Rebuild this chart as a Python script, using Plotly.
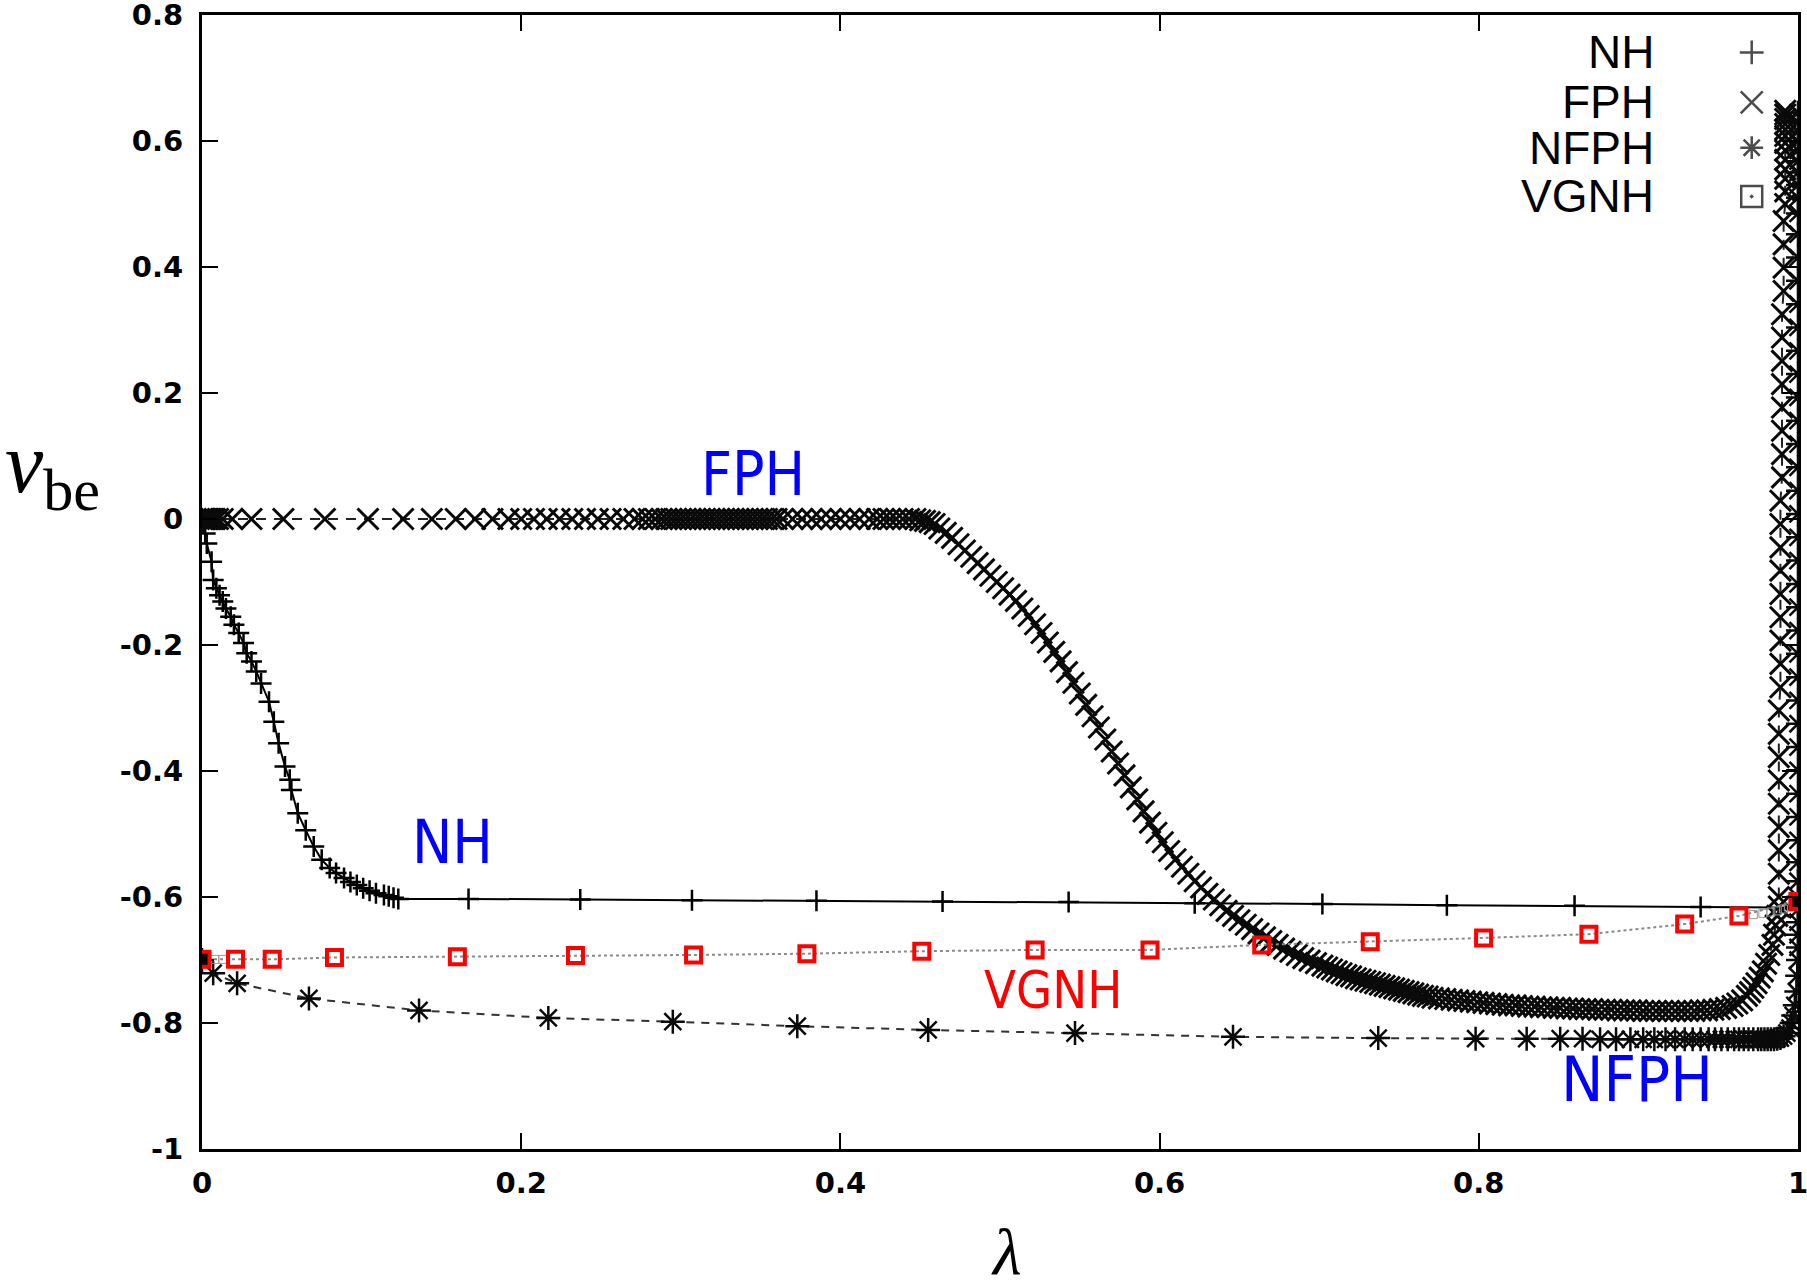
import plotly.graph_objects as go

# ---------------- data ----------------
NH_x = [0.000, 0.0003, 0.0008, 0.002, 0.003, 0.006, 0.007, 0.009, 0.011, 0.013, 0.015, 0.018, 0.020,
        0.023, 0.026, 0.028, 0.031, 0.034, 0.037, 0.042, 0.045, 0.048, 0.052, 0.055, 0.056, 0.060,
        0.065, 0.070, 0.075, 0.080, 0.084, 0.089, 0.093, 0.097, 0.101, 0.105, 0.109, 0.114, 0.117,
        0.120, 0.123, 0.167, 0.237, 0.307, 0.385, 0.464, 0.543, 0.622, 0.702, 0.780, 0.860, 0.939, 1.000]
NH_y = [0.000, -0.003, -0.007, -0.023, -0.039, -0.068, -0.097, -0.110, -0.121, -0.131, -0.142, -0.155, -0.168,
        -0.181, -0.197, -0.213, -0.226, -0.242, -0.261, -0.290, -0.322, -0.356, -0.393, -0.414, -0.430, -0.467,
        -0.494, -0.520, -0.541, -0.554, -0.562, -0.570, -0.576, -0.581, -0.586, -0.590, -0.594, -0.597, -0.599,
        -0.601, -0.603, -0.603, -0.604, -0.605, -0.606, -0.607, -0.608, -0.610, -0.611, -0.613, -0.614, -0.616, -0.617]

FPH_x = [0.000, 0.001, 0.002, 0.003, 0.004, 0.005, 0.006, 0.008, 0.010, 0.013, 0.019, 0.031, 0.051, 0.077,
         0.104, 0.126, 0.144, 0.159, 0.171, 0.182, 0.192, 0.200, 0.208, 0.216, 0.224, 0.232, 0.240, 0.248,
         0.256, 0.264, 0.271, 0.276, 0.280, 0.284, 0.288, 0.291, 0.294, 0.297, 0.300, 0.303, 0.306, 0.309,
         0.312, 0.315, 0.318, 0.321, 0.324, 0.327, 0.330, 0.333, 0.336, 0.339, 0.342, 0.345, 0.348, 0.351,
         0.354, 0.357, 0.360, 0.364, 0.370, 0.376, 0.382, 0.388, 0.394, 0.400, 0.406, 0.412, 0.418, 0.423,
         0.427, 0.431, 0.435, 0.439, 0.443, 0.447, 0.450, 0.453, 0.456, 0.459,
         0.462, 0.466, 0.470, 0.474, 0.478, 0.482, 0.486, 0.490, 0.494, 0.498, 0.502, 0.506, 0.510, 0.514,
         0.518, 0.522, 0.526, 0.530, 0.534, 0.538, 0.542, 0.546, 0.550, 0.554, 0.558, 0.562, 0.566, 0.570,
         0.574, 0.578, 0.582, 0.586, 0.590, 0.594, 0.598, 0.602, 0.606, 0.610, 0.614, 0.618, 0.622, 0.626,
         0.630, 0.634, 0.638, 0.642, 0.646, 0.650, 0.654, 0.658, 0.662, 0.666, 0.670, 0.674, 0.678, 0.682,
         0.686, 0.690, 0.694, 0.698, 0.702, 0.705, 0.708, 0.711, 0.714, 0.717, 0.720, 0.723, 0.726, 0.729,
         0.732, 0.735, 0.738, 0.741, 0.744, 0.747, 0.750, 0.753, 0.756, 0.759, 0.762, 0.765, 0.768, 0.771,
         0.775, 0.779, 0.783, 0.787, 0.791, 0.795, 0.799, 0.803, 0.807, 0.811, 0.815, 0.819, 0.823, 0.827,
         0.831, 0.835, 0.839, 0.843, 0.847, 0.851, 0.855, 0.859, 0.863, 0.867, 0.871, 0.875, 0.879, 0.883,
         0.887, 0.891, 0.895, 0.899, 0.903, 0.907, 0.911, 0.915, 0.919, 0.923, 0.927, 0.931, 0.935, 0.939,
         0.943, 0.947, 0.951, 0.955, 0.959, 0.962, 0.965, 0.968, 0.970, 0.972, 0.974, 0.976, 0.978, 0.980,
         0.982, 0.984, 0.985, 0.986, 0.987, 0.988, 0.988,
         0.988, 0.988, 0.988, 0.988, 0.988, 0.988, 0.988, 0.988, 0.989, 0.989, 0.989, 0.989, 0.989, 0.989,
         0.989, 0.989, 0.989, 0.990, 0.990, 0.990, 0.990, 0.990, 0.990, 0.990, 0.990, 0.991, 0.991, 0.991,
         0.991, 0.992, 0.992, 0.992, 0.992, 0.992, 0.992, 0.992, 0.992, 0.992, 0.992, 0.992, 0.992, 0.992]
FPH_y = [0.000] * 76 + [-0.002, -0.003, -0.005, -0.008,
         -0.015, -0.022, -0.030, -0.040, -0.050, -0.060, -0.070, -0.080, -0.090, -0.100, -0.110, -0.120, -0.130, -0.142,
         -0.154, -0.167, -0.181, -0.196, -0.211, -0.226, -0.243, -0.260, -0.277, -0.295, -0.313, -0.331, -0.350, -0.369,
         -0.388, -0.407, -0.426, -0.445, -0.464, -0.482, -0.498, -0.513, -0.527, -0.540, -0.552, -0.563, -0.575, -0.585,
         -0.595, -0.604, -0.613, -0.622, -0.630, -0.637, -0.644, -0.651, -0.658, -0.664, -0.670, -0.676, -0.682, -0.687,
         -0.692, -0.697, -0.701, -0.705, -0.709, -0.712, -0.715, -0.718, -0.721, -0.724, -0.726, -0.729, -0.731, -0.733,
         -0.735, -0.737, -0.739, -0.741, -0.743, -0.745, -0.747, -0.749, -0.751, -0.753, -0.755, -0.757, -0.758, -0.760,
         -0.761, -0.762, -0.763, -0.764, -0.765, -0.766, -0.767, -0.768, -0.769, -0.770, -0.771, -0.772, -0.772, -0.773,
         -0.774, -0.774, -0.775, -0.775, -0.776, -0.776, -0.777, -0.777, -0.778, -0.778, -0.778, -0.779, -0.779, -0.779,
         -0.780, -0.780, -0.780, -0.780, -0.781, -0.781, -0.781, -0.781, -0.781, -0.781, -0.781, -0.781, -0.781, -0.780,
         -0.780, -0.779, -0.778, -0.776, -0.773, -0.769, -0.764, -0.757, -0.751, -0.744, -0.737, -0.728, -0.718, -0.706,
         -0.692, -0.676, -0.660, -0.645, -0.630, -0.615, -0.600,
         -0.563, -0.526, -0.489, -0.452, -0.415, -0.378, -0.341, -0.304, -0.267, -0.230, -0.193, -0.156, -0.119, -0.082,
         -0.045, -0.008, 0.029, 0.066, 0.103, 0.140, 0.177, 0.214, 0.251, 0.288, 0.325, 0.362, 0.399, 0.436,
         0.473, 0.500, 0.520, 0.540, 0.555, 0.570, 0.585, 0.597, 0.608, 0.618, 0.627, 0.635, 0.642, 0.648]

NFPH_x = [0.000, 0.007, 0.022, 0.067, 0.136, 0.217, 0.295, 0.373, 0.455, 0.547, 0.646, 0.737, 0.798,
          0.830, 0.851, 0.865, 0.876, 0.886, 0.895, 0.903, 0.910, 0.917, 0.923, 0.929, 0.934, 0.939,
          0.944, 0.948, 0.952, 0.956, 0.960, 0.963, 0.966, 0.969, 0.972, 0.975, 0.977, 0.979, 0.981,
          0.983, 0.985, 0.987, 0.989, 0.991, 0.993, 0.995, 0.996, 0.997, 0.998, 0.999, 0.9995, 1.000,
          1.000, 1.000, 1.000, 1.000, 1.000, 1.000, 1.000, 1.000, 1.000, 1.000, 1.000, 1.000, 1.000,
          1.000, 1.000, 1.000, 1.000, 1.000, 1.000, 1.000, 1.000, 1.000, 1.000, 1.000, 1.000, 1.000,
          1.000, 1.000, 1.000, 1.000, 1.000, 1.000, 1.000, 1.000, 1.000, 1.000, 1.000, 1.000, 1.000,
          1.000, 1.000, 1.000, 1.000, 1.000]
NFPH_y = [-0.700, -0.721, -0.737, -0.761, -0.780, -0.792, -0.798, -0.805, -0.811, -0.816, -0.822, -0.824, -0.825,
          -0.825, -0.825, -0.825, -0.826, -0.826, -0.826, -0.826, -0.826, -0.826, -0.826, -0.826, -0.826, -0.826,
          -0.826, -0.826, -0.826, -0.826, -0.826, -0.826, -0.826, -0.826, -0.826, -0.826, -0.826, -0.826, -0.826,
          -0.826, -0.826, -0.825, -0.824, -0.821, -0.816, -0.808, -0.800, -0.788, -0.772, -0.750, -0.725, -0.700,
          -0.680, -0.660, -0.640, -0.620, -0.600, -0.575, -0.545, -0.510, -0.473, -0.436, -0.399, -0.362, -0.325,
          -0.288, -0.251, -0.214, -0.177, -0.140, -0.103, -0.066, -0.029, 0.008, 0.045, 0.082, 0.119, 0.156,
          0.193, 0.230, 0.267, 0.304, 0.341, 0.378, 0.415, 0.452, 0.485, 0.510, 0.530, 0.550, 0.568,
          0.585, 0.600, 0.615, 0.630, 0.645]

VGNH_x = [0.000, 0.021, 0.044, 0.083, 0.160, 0.234, 0.308, 0.379, 0.451, 0.522, 0.594, 0.664, 0.732,
          0.803, 0.869, 0.929, 0.963, 1.000]
VGNH_y = [-0.699, -0.699, -0.699, -0.696, -0.695, -0.693, -0.692, -0.690, -0.686, -0.684, -0.684, -0.676, -0.671,
          -0.665, -0.659, -0.643, -0.630, -0.607]
# un-highlighted VGNH points near the ends
VGNH_dense_x = [0.008, 0.013, 0.972, 0.978, 0.983, 0.987, 0.991, 0.994]
VGNH_dense_y = [-0.699, -0.699, -0.628, -0.626, -0.624, -0.622, -0.619, -0.616]

series_names = ["NH", "FPH", "NFPH", "VGNH"]
x_ticks = [0, 0.2, 0.4, 0.6, 0.8, 1]
x_tick_labels = ["0", "0.2", "0.4", "0.6", "0.8", "1"]
y_ticks = [-1, -0.8, -0.6, -0.4, -0.2, 0, 0.2, 0.4, 0.6, 0.8]
y_tick_labels = ["-1", "-0.8", "-0.6", "-0.4", "-0.2", "0", "0.2", "0.4", "0.6", "0.8"]

# ---------------- figure ----------------
fig = go.Figure()

fig.add_trace(go.Scatter(
    x=NH_x, y=NH_y, mode="lines+markers", name="NH", showlegend=False,
    line=dict(color="black", width=2),
    marker=dict(symbol="cross-thin", size=15, color="black", line=dict(color="black", width=2.5))))

fig.add_trace(go.Scatter(
    x=FPH_x, y=FPH_y, mode="lines+markers", name="FPH", showlegend=False,
    line=dict(color="#222222", width=2, dash="10px,8px"),
    marker=dict(symbol="x-thin", size=21, color="#0a0a0a", line=dict(color="#0a0a0a", width=3))))

fig.add_trace(go.Scatter(
    x=NFPH_x, y=NFPH_y, mode="lines+markers", name="NFPH", showlegend=False,
    line=dict(color="#333333", width=2, dash="8px,7px"),
    marker=dict(symbol="asterisk-open", size=20, color="#0a0a0a", line=dict(color="#0a0a0a", width=2.5))))

fig.add_trace(go.Scatter(
    x=VGNH_dense_x, y=VGNH_dense_y, mode="markers", name="VGNH dense", showlegend=False,
    marker=dict(symbol="square-open", size=8, color="#999999", line=dict(color="#999999", width=1))))

vg_fill = ["black"] + ["rgba(0,0,0,0)"] * (len(VGNH_x) - 2) + ["black"]
fig.add_trace(go.Scatter(
    x=VGNH_x, y=VGNH_y, mode="lines+markers", name="VGNH", showlegend=False,
    line=dict(color="#8a8a8a", width=2, dash="dot"),
    marker=dict(symbol="square", size=15, color=vg_fill, line=dict(color="#ff0000", width=4))))

# ---------------- hand-made key (text left, symbol right) ----------------
key_rows_y = [0.967, 0.923, 0.883, 0.840]
key_symbols = ["cross-thin", "x-thin", "asterisk-open", "square-open-dot"]
key_sizes = [17, 22, 19, 21]
fig.add_trace(go.Scatter(
    x=[0.971] * 4, y=key_rows_y, xaxis="x2", yaxis="y2", mode="markers", showlegend=False,
    hoverinfo="skip",
    marker=dict(symbol=key_symbols, size=key_sizes, color="black", line=dict(color="black", width=2.5))))

annotations = []
for name, yy in zip(series_names, key_rows_y):
    annotations.append(dict(xref="paper", yref="paper", x=0.911, y=yy, xanchor="right", yanchor="middle",
                            text=name, showarrow=False,
                            font=dict(family="Liberation Sans, Arial, sans-serif", size=46, color="black")))

label_font = "DejaVu Sans Condensed, Liberation Sans Narrow, DejaVu Sans, sans-serif"
for txt, xx, yy, col, sz in [("FPH", 0.345, 0.071, "#0000ff", 60),
                             ("NH", 0.157, -0.513, "#0000ff", 60),
                             ("VGNH", 0.533, -0.748, "#ff0000", 52),
                             ("NFPH", 0.899, -0.890, "#0000ff", 63)]:
    annotations.append(dict(x=xx, y=yy, xref="x", yref="y", text=txt, showarrow=False,
                            xanchor="center", yanchor="middle",
                            font=dict(family=label_font, size=sz, color=col)))

annotations.append(dict(xref="paper", yref="paper", x=-0.1247, y=0.60, xanchor="left", yanchor="middle",
                        text="<i>v</i><sub>be</sub>", showarrow=False,
                        font=dict(family="Liberation Serif, DejaVu Serif, serif", size=86, color="black")))
annotations.append(dict(xref="paper", yref="paper", x=0.504, y=-0.090, xanchor="center", yanchor="middle",
                        text="<i>λ</i>", showarrow=False,
                        font=dict(family="Liberation Serif, DejaVu Serif, serif", size=66, color="black")))

tick_font = dict(family="DejaVu Sans, sans-serif", size=29, color="black", weight="bold")
axis_common = dict(showline=True, linewidth=3, linecolor="black", mirror="ticks",
                   ticks="inside", ticklen=16, tickwidth=2, tickcolor="black",
                   showgrid=False, zeroline=False, tickfont=tick_font, automargin=False,
                   ticklabeloverflow="allow")

fig.update_layout(
    width=1807, height=1287,
    margin=dict(l=202, r=9, t=15, b=138),
    paper_bgcolor="white", plot_bgcolor="white",
    showlegend=False,
    xaxis=dict(range=[0, 1.00001], tickmode="array", tickvals=x_ticks, ticktext=x_tick_labels,
               ticklabelstandoff=6, **axis_common),
    yaxis=dict(range=[-1.00001, 0.80001], tickmode="array", tickvals=y_ticks, ticktext=y_tick_labels,
               ticklabelstandoff=10, **axis_common),
    xaxis2=dict(overlaying="x", range=[0, 1], visible=False),
    yaxis2=dict(overlaying="y", range=[0, 1], visible=False),
    annotations=annotations,
)

fig.write_html("out.html")
